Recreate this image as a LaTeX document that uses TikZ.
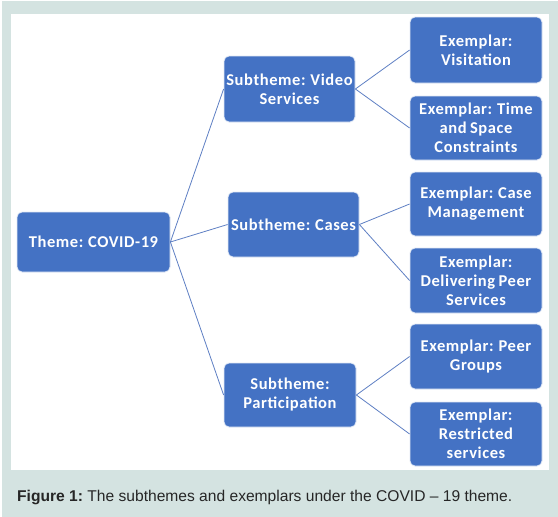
\documentclass[tikz,border=0pt]{standalone}
\usepackage{fontspec}
\setmainfont{Liberation Sans}
\newfontfamily\boxfont[LetterSpace=3.5,WordSpace=0.8]{Carlito}
\definecolor{pagebg}{RGB}{212,227,225}
\definecolor{boxblue}{RGB}{68,114,196}
\definecolor{linkblue}{RGB}{95,128,196}
\begin{document}
\begin{tikzpicture}[x=1pt,y=-1pt,
  blk/.style={rectangle, rounded corners=5pt, fill=boxblue, draw=white!85!boxblue, line width=0.8pt,
    text=white, align=center, inner sep=1pt,
    font=\boxfont\bfseries\fontsize{16.5}{19}\selectfont},
  link/.style={draw=linkblue, line width=0.8pt}]
\useasboundingbox (0,0) rectangle (558,517);
\fill[white] (0,0) rectangle (558,517);
\fill[pagebg] (2,1) rectangle (558,517);
\fill[white] (11,14) rectangle (549,470);
% theme
\node[blk, minimum width=153pt, minimum height=60pt] (theme) at (93.5,242) {Theme: COVID-19};
% subthemes
\node[blk, minimum width=131pt, minimum height=66pt] (video) at (289.5,89) {Subtheme: Video\\Services};
\node[blk, minimum width=131pt, minimum height=65pt] (cases) at (293.5,224.5) {Subtheme: Cases};
\node[blk, minimum width=132pt, minimum height=64pt] (part) at (290,395) {Subtheme:\\Participation};
% exemplars
\node[blk, minimum width=132pt, minimum height=66pt] (vis) at (476,50) {Exemplar:\\Visitation};
\node[blk, minimum width=132pt, minimum height=64pt] (time) at (476,128) {Exemplar: Time\\and Space\\Constraints};
\node[blk, minimum width=132pt, minimum height=64pt] (cm) at (476,204) {Exemplar: Case\\Management};
\node[blk, minimum width=132pt, minimum height=65pt] (dps) at (476,280.5) {Exemplar:\\Delivering Peer\\Services};
\node[blk, minimum width=132pt, minimum height=65pt] (pg) at (476,356.5) {Exemplar: Peer\\Groups};
\node[blk, minimum width=132pt, minimum height=64pt] (rs) at (476,434) {Exemplar:\\Restricted\\services};
% connectors
\draw[link] (theme.east) -- (video.west);
\draw[link] (theme.east) -- (cases.west);
\draw[link] (theme.east) -- (part.west);
\draw[link] (video.east) -- (vis.west);
\draw[link] (video.east) -- (time.west);
\draw[link] (cases.east) -- (cm.west);
\draw[link] (cases.east) -- (dps.west);
\draw[link] (part.east) -- (pg.west);
\draw[link] (part.east) -- (rs.west);
% caption
\node[anchor=base west, inner sep=0pt, font=\fontsize{15.6}{17}\selectfont, text=black!85] (cap) at (17,501.5)
  {\textbf{Figure 1:}\ The subthemes and exemplars under the COVID -- 19 theme.};
\end{tikzpicture}
\end{document}
